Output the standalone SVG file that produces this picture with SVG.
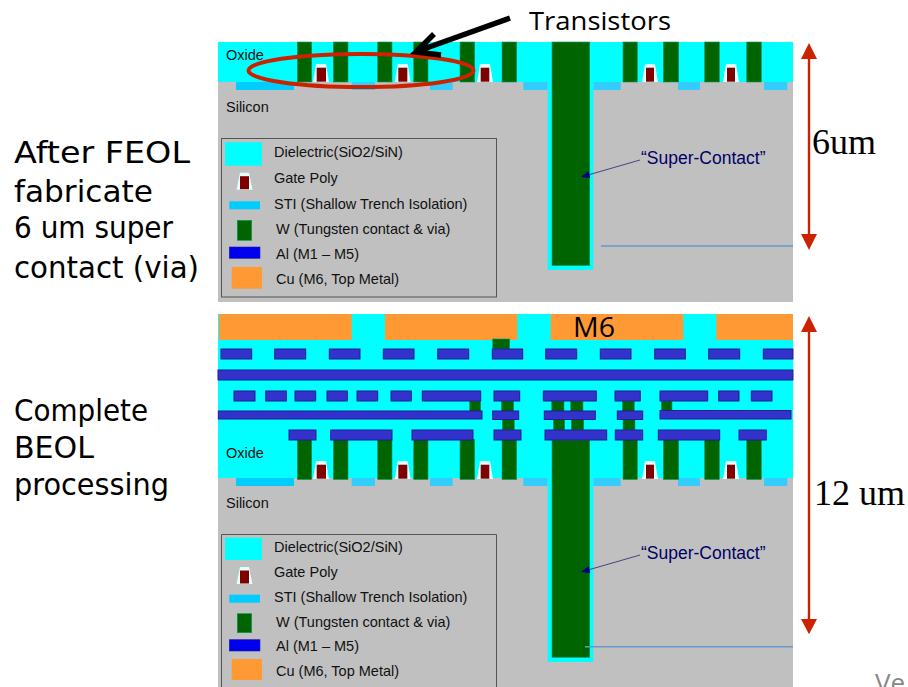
<svg xmlns="http://www.w3.org/2000/svg" width="908" height="687" viewBox="0 0 908 687">
<style>
.si{fill:#c0c0c0}.ox{fill:#00ffff}.w{fill:#006400;stroke:#009966;stroke-width:.6}.sti{fill:#33ccff}
.al{fill:#3333cc;stroke:#1f1f99;stroke-width:1}.cu{fill:#ff9933}.gate{fill:#800000}.sp{fill:#e0ffff}
.t{font-family:"Liberation Sans",Arial,sans-serif;font-size:14.500px;fill:#111}
.sc{font-family:"Liberation Sans",Arial,sans-serif;font-size:17.500px;fill:#000066}
.h{font-family:"DejaVu Sans",sans-serif;font-size:30px;fill:#000}
.tm{font-family:"Liberation Serif",serif;font-size:36px;fill:#000}
.cal{font-family:"Open Sans",sans-serif;fill:#000}
.box{fill:none;stroke:#555;stroke-width:1}
.red{stroke:#cc2200;stroke-width:2.400;fill:none}.head{fill:#cc2200}
.sb{fill:#00ccff}.ab{fill:#0000ee;stroke:#1f1f99;stroke-width:.6}
</style>
<defs>
<g id="tr">
<rect class="w" x="297.300" y="0" width="14.400" height="40"/><rect class="w" x="333.300" y="0" width="14.700" height="40"/>
<rect class="w" x="377.700" y="0" width="14.300" height="40"/><rect class="w" x="413.700" y="0" width="14.300" height="40"/>
<rect class="w" x="460" y="0" width="14.700" height="40"/><rect class="w" x="502" y="0" width="14.700" height="40"/>
<rect class="w" x="623" y="0" width="14.300" height="40"/><rect class="w" x="663.300" y="0" width="15.400" height="40"/>
<rect class="w" x="704.700" y="0" width="14.600" height="40"/><rect class="w" x="746.700" y="0" width="14.600" height="40"/>
</g>
<g id="gates">
<path class="sp" d="M316 22h10l3 18h-16z"/><rect class="gate" x="316.700" y="25.700" width="9.300" height="14"/>
<path class="sp" d="M397.700 22h10l3 18h-16z"/><rect class="gate" x="398.300" y="25.700" width="9" height="14"/>
<path class="sp" d="M480 22h10l3 18h-16z"/><rect class="gate" x="480.700" y="25.700" width="8.600" height="14"/>
<path class="sp" d="M645 22h10l3 18h-16z"/><rect class="gate" x="646" y="25.700" width="8" height="14"/>
<path class="sp" d="M726 22h10l3 18h-16z"/><rect class="gate" x="727" y="25.700" width="8" height="14"/>
</g>
<g id="stis">
<rect class="sb" x="236" y="0" width="58" height="8"/><rect class="sti" x="351.700" y="0" width="23.300" height="8"/>
<rect class="sti" x="430" y="0" width="22.700" height="8"/><rect class="sti" x="523.300" y="0" width="24.400" height="8"/>
<rect class="sti" x="593.300" y="0" width="27.400" height="8"/><rect class="sti" x="678" y="0" width="22" height="8"/>
<rect class="sti" x="764" y="0" width="23.300" height="8"/>
</g>
<g id="gl"><path class="sp" d="M240 0h9l3.500 17h-16z"/><rect class="gate" x="240" y="3.500" width="9" height="13"/></g>
<marker id="nv" viewBox="0 0 10 8" refX="10" refY="4" markerWidth="9" markerHeight="7" markerUnits="userSpaceOnUse" orient="auto"><path d="M0 0L10 4L0 8z" fill="#000080"/></marker>
</defs>

<g id="panel-feol">
<rect class="si" x="218" y="42" width="575" height="260"/>
<rect class="ox" x="218" y="42" width="575" height="40"/>
<use href="#stis" y="82"/>
<use href="#tr" y="42"/>
<use href="#gates" y="42"/>
<rect class="ox" x="547.700" y="42" width="45.600" height="228"/>
<rect class="w" x="552" y="42" width="37.700" height="223.500"/>
<text class="t" x="226" y="60">Oxide</text>
<text class="t" x="226" y="112">Silicon</text>
<text class="sc" x="641" y="164">“Super-Contact”</text>
</g>

<g id="legend-feol">
<rect class="box" x="221.500" y="138.500" width="275" height="158.500"/>
<rect class="ox" x="225" y="142.300" width="37" height="23.400"/>
<use href="#gl" y="172.700"/>
<rect class="sb" x="229.300" y="201.300" width="30.700" height="8"/>
<rect class="w" x="237.300" y="220.300" width="14.400" height="20"/>
<rect class="ab" x="229.300" y="247" width="30.700" height="11.300"/>
<rect class="cu" x="231.700" y="267" width="30.300" height="21.700"/>
<text class="t" x="274" y="157.300">Dielectric(SiO2/SiN)</text>
<text class="t" x="274" y="182.700">Gate Poly</text>
<text class="t" x="274" y="208.700">STI (Shallow Trench Isolation)</text>
<text class="t" x="276" y="234">W (Tungsten contact &amp; via)</text>
<text class="t" x="276" y="259">Al (M1 – M5)</text>
<text class="t" x="276" y="284.300">Cu (M6, Top Metal)</text>
</g>

<g id="panel-beol">
<rect class="si" x="218" y="314" width="575" height="373"/>
<rect class="ox" x="218" y="314" width="575" height="164"/>
<use href="#stis" y="478"/>
<use href="#tr" y="439.500"/>
<use href="#gates" y="439"/>
<rect class="ox" x="547.700" y="478" width="45.600" height="184"/>
<rect class="w" x="552" y="440" width="37.700" height="217.300"/>
<g id="m6"><rect class="cu" x="219" y="314" width="132.700" height="26"/><rect class="cu" x="385" y="314" width="132.300" height="26"/><rect class="cu" x="550.700" y="314" width="132.600" height="26"/><rect class="cu" x="716.300" y="314" width="76.700" height="26"/></g>
<g id="vias">
<rect class="w" x="492.700" y="339" width="17" height="10"/>
<rect class="w" x="469.700" y="401" width="11" height="11"/><rect class="w" x="501.300" y="401" width="12.400" height="11"/><rect class="w" x="551.700" y="401" width="12.300" height="11"/><rect class="w" x="570.700" y="401" width="12.300" height="11"/><rect class="w" x="622.300" y="401" width="12" height="11"/><rect class="w" x="661.300" y="401" width="10.700" height="11"/>
<rect class="w" x="502.300" y="419" width="12" height="11"/><rect class="w" x="553.300" y="419" width="11.400" height="11"/><rect class="w" x="571.300" y="419" width="12.400" height="11"/><rect class="w" x="623" y="419" width="12" height="11"/>
</g>
<g id="m5"><rect class="al" x="221" y="349" width="30.700" height="10"/><rect class="al" x="274.700" y="349" width="31" height="10"/><rect class="al" x="329.300" y="349" width="30.700" height="10"/><rect class="al" x="383.300" y="349" width="30.700" height="10"/><rect class="al" x="437.700" y="349" width="31" height="10"/><rect class="al" x="492.300" y="349" width="30.400" height="10"/><rect class="al" x="545.700" y="349" width="31" height="10"/><rect class="al" x="600.300" y="349" width="30.700" height="10"/><rect class="al" x="654.700" y="349" width="30.600" height="10"/><rect class="al" x="708.700" y="349" width="31" height="10"/><rect class="al" x="763.300" y="349" width="29.700" height="10"/></g>
<rect id="m4" class="al" x="218" y="370" width="575" height="10"/>
<g id="m3"><rect class="al" x="234" y="391" width="21" height="10"/><rect class="al" x="265.700" y="391" width="20.600" height="10"/><rect class="al" x="295" y="391" width="20.700" height="10"/><rect class="al" x="327" y="391" width="20.300" height="10"/><rect class="al" x="357" y="391" width="20.700" height="10"/><rect class="al" x="391" y="391" width="20.300" height="10"/><rect class="al" x="422.300" y="391" width="58.400" height="10"/><rect class="al" x="494" y="391" width="25.700" height="10"/><rect class="al" x="543.300" y="391" width="53" height="10"/><rect class="al" x="615" y="391" width="25.300" height="10"/><rect class="al" x="660" y="391" width="47.700" height="10"/><rect class="al" x="718.700" y="391" width="20.300" height="10"/><rect class="al" x="751.300" y="391" width="20.700" height="10"/></g>
<g id="m2"><rect class="al" x="218.300" y="411" width="263.700" height="8"/><rect class="al" x="492.700" y="411" width="26" height="8.500"/><rect class="al" x="544.300" y="411" width="51" height="8.500"/><rect class="al" x="617.300" y="411" width="25.400" height="8.500"/><rect class="al" x="660" y="410.500" width="131" height="8.500"/></g>
<g id="m1"><rect class="al" x="289" y="430" width="27" height="10"/><rect class="al" x="330.700" y="430" width="61.300" height="10"/><rect class="al" x="412" y="430" width="61" height="10"/><rect class="al" x="494" y="430" width="27" height="10"/><rect class="al" x="545" y="430" width="61.700" height="10"/><rect class="al" x="615.300" y="430" width="27.400" height="10"/><rect class="al" x="658.300" y="430" width="61.400" height="10"/><rect class="al" x="739" y="430" width="27.300" height="10"/></g>
<text class="t" x="226" y="458">Oxide</text>
<text class="t" x="226" y="508">Silicon</text>
<text class="sc" x="641" y="559">“Super-Contact”</text>
<text class="cal" x="573" y="337" font-size="27" textLength="42" lengthAdjust="spacingAndGlyphs">M6</text>
</g>

<g id="legend-beol">
<path class="box" d="M221.500 687V534.500H496.500V687"/>
<rect class="ox" x="225" y="537.700" width="37" height="22.300"/>
<use href="#gl" y="567"/>
<rect class="sb" x="229.300" y="594.700" width="30.700" height="8"/>
<rect class="w" x="237.300" y="613.700" width="14.400" height="19"/>
<rect class="ab" x="229.300" y="639.700" width="30.700" height="11.300"/>
<rect class="cu" x="231.700" y="659" width="30.300" height="21"/>
<text class="t" x="274" y="552">Dielectric(SiO2/SiN)</text>
<text class="t" x="274" y="577">Gate Poly</text>
<text class="t" x="274" y="602">STI (Shallow Trench Isolation)</text>
<text class="t" x="276" y="626.500">W (Tungsten contact &amp; via)</text>
<text class="t" x="276" y="651">Al (M1 – M5)</text>
<text class="t" x="276" y="676">Cu (M6, Top Metal)</text>
</g>

<g id="connectors">
<path d="M640 160L581 177" stroke="#444488" stroke-width="1" marker-end="url(#nv)" fill="none"/>
<path d="M640 555L581 572" stroke="#444488" stroke-width="1" marker-end="url(#nv)" fill="none"/>
<path d="M601 246H793" stroke="#6699cc" stroke-width="1.500"/>
<path d="M585 646.700H793" stroke="#6699cc" stroke-width="1.500"/>
<ellipse cx="361" cy="70.500" rx="112.500" ry="16.500" fill="none" stroke="#cc2200" stroke-width="4"/>
<path d="M510 18L418 51M434 34L416 52L441 55" fill="none" stroke="#000" stroke-width="5.500"/>
<path class="red" d="M809 55V238"/><path class="head" d="M809 43L817 59H801zM809 250L801 234H817z"/>
<path class="red" d="M809 328V622"/><path class="head" d="M809 316L817 332H801zM809 634.300L801 619H817z"/>
</g>

<g id="labels">
<text class="cal" x="529" y="30" font-size="26" textLength="142" lengthAdjust="spacingAndGlyphs">Transistors</text>
<text class="tm" x="812" y="154">6um</text>
<text class="tm" x="814" y="505">12 um</text>
<text class="h" x="14" y="163" textLength="176" lengthAdjust="spacingAndGlyphs">After FEOL</text>
<text class="h" x="14" y="201.700" textLength="139" lengthAdjust="spacingAndGlyphs">fabricate</text>
<text class="h" x="14" y="238" textLength="159" lengthAdjust="spacingAndGlyphs">6 um super</text>
<text class="h" x="14" y="278" textLength="185" lengthAdjust="spacingAndGlyphs">contact (via)</text>
<text class="h" x="14" y="420.700" textLength="134" lengthAdjust="spacingAndGlyphs">Complete</text>
<text class="h" x="14" y="458" textLength="80" lengthAdjust="spacingAndGlyphs">BEOL</text>
<text class="h" x="14" y="495" textLength="155" lengthAdjust="spacingAndGlyphs">processing</text>
<text class="cal" x="875" y="692" font-size="26" style="fill:#888">Ve</text>
</g>
</svg>
